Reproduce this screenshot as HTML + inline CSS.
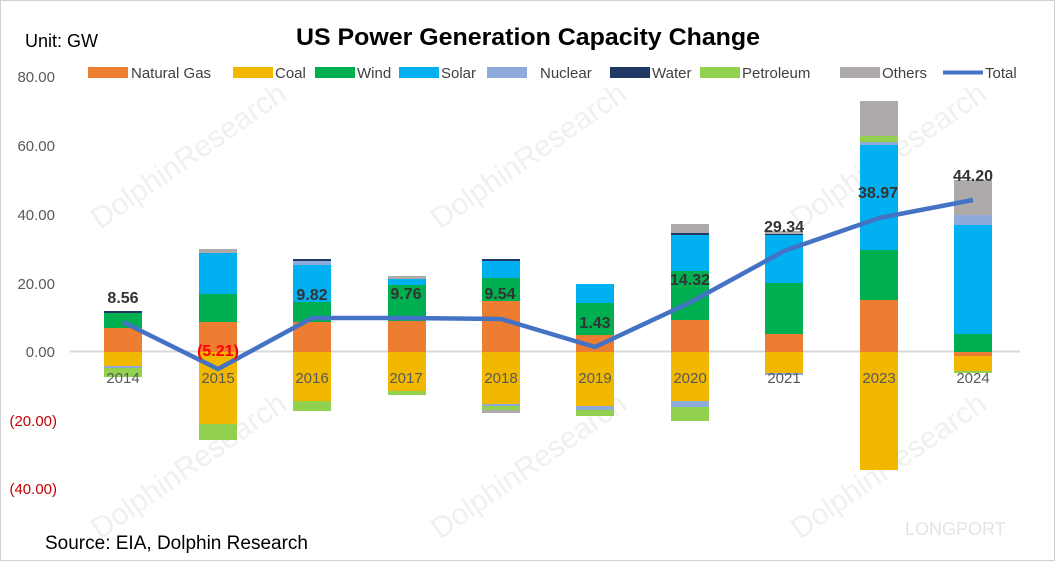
<!DOCTYPE html>
<html><head><meta charset="utf-8"><style>
body{margin:0;background:#fff;}
svg{display:block;font-family:"Liberation Sans",Calibri,sans-serif;}
</style></head><body>
<svg width="1055" height="561" viewBox="0 0 1055 561">
<rect x="0.5" y="0.5" width="1054" height="560" fill="#fff" stroke="#d0d0d0"/>
<g fill="#f0f0f0" font-size="30">
<text transform="translate(100,230) rotate(-35)">DolphinResearch</text>
<text transform="translate(440,230) rotate(-35)">DolphinResearch</text>
<text transform="translate(800,230) rotate(-35)">DolphinResearch</text>
<text transform="translate(100,540) rotate(-35)">DolphinResearch</text>
<text transform="translate(440,540) rotate(-35)">DolphinResearch</text>
<text transform="translate(800,540) rotate(-35)">DolphinResearch</text>
<text x="905" y="535" font-size="18" fill="#e4e4e4">LONGPORT</text>
</g>
<text x="296" y="45" textLength="464" lengthAdjust="spacingAndGlyphs" font-size="24" font-weight="bold" fill="#000">US Power Generation Capacity Change</text>
<text x="25" y="47" font-size="18" fill="#000">Unit: GW</text>
<text x="45" y="549" font-size="19" fill="#000">Source: EIA, Dolphin Research</text>
<g font-size="15" fill="#595959" text-anchor="end">
<text x="55" y="82">80.00</text><text x="55" y="151">60.00</text><text x="55" y="220">40.00</text><text x="55" y="289">20.00</text><text x="55" y="357">0.00</text>
<text x="57" y="426" fill="#c00000">(20.00)</text><text x="57" y="494" fill="#c00000">(40.00)</text>
</g>
<g font-size="15" fill="#404040">
<rect x="88" y="67" width="40" height="11" fill="#ed7d31"/><text x="131" y="78">Natural Gas</text>
<rect x="233" y="67" width="40" height="11" fill="#f2b800"/><text x="275" y="78">Coal</text>
<rect x="315" y="67" width="40" height="11" fill="#00b050"/><text x="357" y="78">Wind</text>
<rect x="399" y="67" width="40" height="11" fill="#00b0f0"/><text x="441" y="78">Solar</text>
<rect x="487" y="67" width="40" height="11" fill="#8eaadb"/><text x="540" y="78">Nuclear</text>
<rect x="610" y="67" width="40" height="11" fill="#1f3864"/><text x="652" y="78">Water</text>
<rect x="700" y="67" width="40" height="11" fill="#92d050"/><text x="742" y="78">Petroleum</text>
<rect x="840" y="67" width="40" height="11" fill="#aeaaaa"/><text x="882" y="78">Others</text>
<line x1="943" y1="72.5" x2="983" y2="72.5" stroke="#4472c4" stroke-width="4"/><text x="985" y="78">Total</text>
</g>
<line x1="70" y1="351.5" x2="1020" y2="351.5" stroke="#d9d9d9" stroke-width="2"/>
<g>
<rect x="104" y="328" width="38" height="24" fill="#ed7d31"/><rect x="104" y="313" width="38" height="15" fill="#00b050"/><rect x="104" y="311" width="38" height="2" fill="#1f3864"/>
<rect x="104" y="352" width="38" height="14" fill="#f2b800"/><rect x="104" y="366" width="38" height="2" fill="#8eaadb"/><rect x="104" y="368" width="38" height="9" fill="#92d050"/>
<rect x="199" y="322" width="38" height="30" fill="#ed7d31"/><rect x="199" y="294" width="38" height="28" fill="#00b050"/><rect x="199" y="253" width="38" height="41" fill="#00b0f0"/><rect x="199" y="249" width="38" height="4" fill="#aeaaaa"/>
<rect x="199" y="352" width="38" height="72" fill="#f2b800"/><rect x="199" y="424" width="38" height="16" fill="#92d050"/>
<rect x="293" y="322" width="38" height="30" fill="#ed7d31"/><rect x="293" y="302" width="38" height="20" fill="#00b050"/><rect x="293" y="265" width="38" height="37" fill="#00b0f0"/><rect x="293" y="261" width="38" height="4" fill="#8eaadb"/><rect x="293" y="259" width="38" height="2" fill="#1f3864"/>
<rect x="293" y="352" width="38" height="49" fill="#f2b800"/><rect x="293" y="401" width="38" height="10" fill="#92d050"/>
<rect x="388" y="321" width="38" height="31" fill="#ed7d31"/><rect x="388" y="285" width="38" height="36" fill="#00b050"/><rect x="388" y="279" width="38" height="6" fill="#00b0f0"/><rect x="388" y="276" width="38" height="3" fill="#aeaaaa"/>
<rect x="388" y="352" width="38" height="39" fill="#f2b800"/><rect x="388" y="391" width="38" height="4" fill="#92d050"/>
<rect x="482" y="301" width="38" height="51" fill="#ed7d31"/><rect x="482" y="278" width="38" height="23" fill="#00b050"/><rect x="482" y="261" width="38" height="17" fill="#00b0f0"/><rect x="482" y="259" width="38" height="2" fill="#1f3864"/>
<rect x="482" y="352" width="38" height="52" fill="#f2b800"/><rect x="482" y="404" width="38" height="2" fill="#8eaadb"/><rect x="482" y="406" width="38" height="4" fill="#92d050"/><rect x="482" y="410" width="38" height="3" fill="#aeaaaa"/>
<rect x="576" y="335" width="38" height="17" fill="#ed7d31"/><rect x="576" y="303" width="38" height="32" fill="#00b050"/><rect x="576" y="284" width="38" height="19" fill="#00b0f0"/>
<rect x="576" y="352" width="38" height="54" fill="#f2b800"/><rect x="576" y="406" width="38" height="4" fill="#8eaadb"/><rect x="576" y="410" width="38" height="6" fill="#92d050"/>
<rect x="671" y="320" width="38" height="32" fill="#ed7d31"/><rect x="671" y="271" width="38" height="49" fill="#00b050"/><rect x="671" y="235" width="38" height="36" fill="#00b0f0"/><rect x="671" y="233" width="38" height="2" fill="#1f3864"/><rect x="671" y="224" width="38" height="9" fill="#aeaaaa"/>
<rect x="671" y="352" width="38" height="49" fill="#f2b800"/><rect x="671" y="401" width="38" height="6" fill="#8eaadb"/><rect x="671" y="407" width="38" height="14" fill="#92d050"/>
<rect x="765" y="334" width="38" height="18" fill="#ed7d31"/><rect x="765" y="283" width="38" height="51" fill="#00b050"/><rect x="765" y="235" width="38" height="48" fill="#00b0f0"/><rect x="765" y="234" width="38" height="1" fill="#1f3864"/><rect x="765" y="231" width="38" height="3" fill="#aeaaaa"/>
<rect x="765" y="352" width="38" height="21" fill="#f2b800"/><rect x="765" y="373" width="38" height="2" fill="#8eaadb"/>
<rect x="860" y="300" width="38" height="52" fill="#ed7d31"/><rect x="860" y="250" width="38" height="50" fill="#00b050"/><rect x="860" y="145" width="38" height="105" fill="#00b0f0"/><rect x="860" y="142" width="38" height="3" fill="#8eaadb"/><rect x="860" y="136" width="38" height="6" fill="#92d050"/><rect x="860" y="101" width="38" height="35" fill="#aeaaaa"/>
<rect x="860" y="352" width="38" height="118" fill="#f2b800"/>
<rect x="954" y="334" width="38" height="18" fill="#00b050"/><rect x="954" y="225" width="38" height="109" fill="#00b0f0"/><rect x="954" y="215" width="38" height="10" fill="#8eaadb"/><rect x="954" y="180" width="38" height="35" fill="#aeaaaa"/>
<rect x="954" y="352" width="38" height="4" fill="#ed7d31"/><rect x="954" y="356" width="38" height="15" fill="#f2b800"/><rect x="954" y="371" width="38" height="2" fill="#92d050"/>
</g>
<g font-size="15" fill="#595959" text-anchor="middle">
<text x="123" y="383">2014</text><text x="218" y="383">2015</text><text x="312" y="383">2016</text><text x="406" y="383">2017</text><text x="501" y="383">2018</text><text x="595" y="383">2019</text><text x="690" y="383">2020</text><text x="784" y="383">2021</text><text x="879" y="383">2023</text><text x="973" y="383">2024</text>
</g>
<polyline points="123,322 218,369 312,318 406,318 501,319 595,347 690,302.5 784,251 879,218 973,200" fill="none" stroke="#4472c4" stroke-width="4.5" stroke-linejoin="round"/>
<g font-size="16" font-weight="bold" fill="#333" text-anchor="middle">
<text x="123" y="303">8.56</text><text x="218" y="356" fill="#ff0000">(5.21)</text><text x="312" y="300">9.82</text><text x="406" y="299">9.76</text><text x="500" y="299">9.54</text><text x="595" y="328">1.43</text><text x="690" y="285">14.32</text><text x="784" y="232">29.34</text><text x="878" y="198">38.97</text><text x="973" y="181">44.20</text>
</g>
</svg>
</body></html>
